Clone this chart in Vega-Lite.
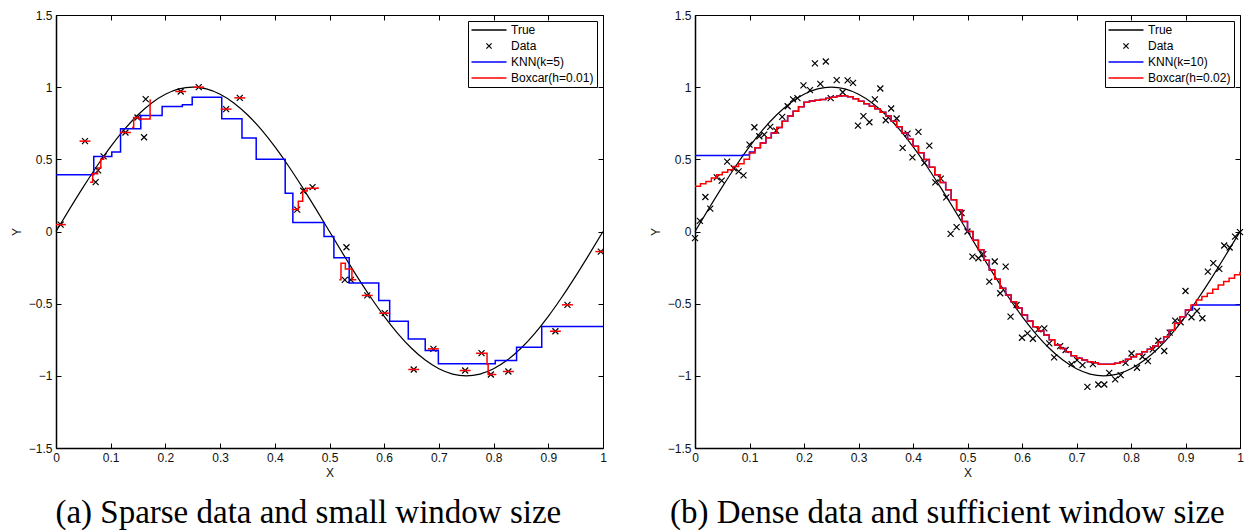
{
  "$schema": "https://vega.github.io/schema/vega-lite/v6.json",
  "background": "white",
  "padding": {"left": 9, "top": 8, "right": 0, "bottom": 0},
  "bounds": "flush",
  "spacing": 92,
  "config": {
    "view": {"stroke": "black", "strokeWidth": 1},
    "font": "Liberation Sans",
    "axis": {
      "labelFont": "Liberation Sans", "labelFontSize": 12, "labelColor": "#111",
      "titleFont": "Liberation Sans", "titleFontSize": 12, "titleFontWeight": "normal", "titleColor": "#111",
      "domainColor": "black", "domainWidth": 1.5, "tickColor": "black", "tickSize": -5, "tickWidth": 1,
      "grid": false, "labelOverlap": false, "labelFlush": false, "format": "~g"
    },
    "legend": {
      "title": null, "orient": "top-right", "offset": 6,
      "strokeColor": "black", "fillColor": "white", "padding": 3,
      "labelFont": "Liberation Sans", "labelFontSize": 12, "labelColor": "black",
      "rowPadding": 4, "symbolStrokeWidth": 1.5, "labelOffset": 16, "symbolOffset": 12,
      "symbolSize": 136, "symbolType": "M-3,0L3,0"
    }
  },
  "datasets": {
    "truth": [
      {"x":0,"y":0},{"x":0.025,"y":0.1564},{"x":0.05,"y":0.309},{"x":0.075,"y":0.454},{"x":0.1,"y":0.5878},
      {"x":0.125,"y":0.7071},{"x":0.15,"y":0.809},{"x":0.175,"y":0.891},{"x":0.2,"y":0.9511},{"x":0.225,"y":0.9877},
      {"x":0.25,"y":1},{"x":0.275,"y":0.9877},{"x":0.3,"y":0.9511},{"x":0.325,"y":0.891},{"x":0.35,"y":0.809},
      {"x":0.375,"y":0.7071},{"x":0.4,"y":0.5878},{"x":0.425,"y":0.454},{"x":0.45,"y":0.309},{"x":0.475,"y":0.1564},
      {"x":0.5,"y":0},{"x":0.525,"y":-0.1564},{"x":0.55,"y":-0.309},{"x":0.575,"y":-0.454},{"x":0.6,"y":-0.5878},
      {"x":0.625,"y":-0.7071},{"x":0.65,"y":-0.809},{"x":0.675,"y":-0.891},{"x":0.7,"y":-0.9511},{"x":0.725,"y":-0.9877},
      {"x":0.75,"y":-1},{"x":0.775,"y":-0.9877},{"x":0.8,"y":-0.9511},{"x":0.825,"y":-0.891},{"x":0.85,"y":-0.809},
      {"x":0.875,"y":-0.7071},{"x":0.9,"y":-0.5878},{"x":0.925,"y":-0.454},{"x":0.95,"y":-0.309},{"x":0.975,"y":-0.1564},
      {"x":1,"y":0}
    ],
    "ptsA": [
      {"x":0.0085,"y":0.048},{"x":0.053,"y":0.626},{"x":0.0725,"y":0.342},{"x":0.077,"y":0.423},{"x":0.087,"y":0.52},
      {"x":0.127,"y":0.686},{"x":0.149,"y":0.79},{"x":0.161,"y":0.653},{"x":0.164,"y":0.917},{"x":0.228,"y":0.97},
      {"x":0.261,"y":1.0},{"x":0.311,"y":0.848},{"x":0.336,"y":0.926},{"x":0.441,"y":0.152},{"x":0.452,"y":0.282},
      {"x":0.469,"y":0.307},{"x":0.528,"y":-0.335},{"x":0.531,"y":-0.109},{"x":0.539,"y":-0.335},{"x":0.569,"y":-0.443},
      {"x":0.601,"y":-0.566},{"x":0.654,"y":-0.956},{"x":0.69,"y":-0.813},{"x":0.748,"y":-0.963},{"x":0.778,"y":-0.843},
      {"x":0.795,"y":-0.991},{"x":0.827,"y":-0.97},{"x":0.913,"y":-0.691},{"x":0.935,"y":-0.508},{"x":0.996,"y":-0.139}
    ],
    "knnA": [
      {"x":0,"y":0.393},{"x":0.069,"y":0.52},{"x":0.102,"y":0.55},{"x":0.118,"y":0.712},{"x":0.155,"y":0.804},
      {"x":0.194,"y":0.866},{"x":0.231,"y":0.878},{"x":0.249,"y":0.931},{"x":0.303,"y":0.781},{"x":0.34,"y":0.647},
      {"x":0.366,"y":0.501},{"x":0.419,"y":0.265},{"x":0.433,"y":0.062},{"x":0.49,"y":-0.035},{"x":0.508,"y":-0.182},
      {"x":0.536,"y":-0.356},{"x":0.59,"y":-0.478},{"x":0.61,"y":-0.621},{"x":0.644,"y":-0.744},{"x":0.675,"y":-0.825},
      {"x":0.699,"y":-0.917},{"x":0.803,"y":-0.894},{"x":0.842,"y":-0.802},{"x":0.888,"y":-0.658},{"x":1.0,"y":-0.658}
    ],
    "boxA": [
      {"s":"A","x":0.0,"y":0.048},{"s":"A","x":0.018,"y":0.048},
      {"s":"B","x":0.043,"y":0.626},{"s":"B","x":0.063,"y":0.626},
      {"s":"C","x":0.0625,"y":0.342},{"s":"C","x":0.067,"y":0.4},{"s":"C","x":0.076,"y":0.44},{"s":"C","x":0.082,"y":0.5},{"s":"C","x":0.087,"y":0.52},{"s":"C","x":0.089,"y":0.52},
      {"s":"D","x":0.117,"y":0.686},{"s":"D","x":0.137,"y":0.686},
      {"s":"E","x":0.139,"y":0.72},{"s":"E","x":0.142,"y":0.79},{"s":"E","x":0.152,"y":0.78},{"s":"E","x":0.172,"y":0.91},{"s":"E","x":0.174,"y":0.91},
      {"s":"F","x":0.218,"y":0.97},{"s":"F","x":0.238,"y":0.97},
      {"s":"G","x":0.251,"y":1.0},{"s":"G","x":0.271,"y":1.0},
      {"s":"H","x":0.301,"y":0.848},{"s":"H","x":0.321,"y":0.848},
      {"s":"I","x":0.326,"y":0.926},{"s":"I","x":0.346,"y":0.926},
      {"s":"J","x":0.431,"y":0.152},{"s":"J","x":0.443,"y":0.21},{"s":"J","x":0.451,"y":0.28},{"s":"J","x":0.459,"y":0.3},{"s":"J","x":0.479,"y":0.307},
      {"s":"K","x":0.518,"y":-0.335},{"s":"K","x":0.521,"y":-0.22},{"s":"K","x":0.529,"y":-0.26},{"s":"K","x":0.538,"y":-0.26},{"s":"K","x":0.541,"y":-0.335},{"s":"K","x":0.549,"y":-0.335},
      {"s":"L","x":0.559,"y":-0.443},{"s":"L","x":0.579,"y":-0.443},
      {"s":"M","x":0.591,"y":-0.566},{"s":"M","x":0.611,"y":-0.566},
      {"s":"N","x":0.644,"y":-0.956},{"s":"N","x":0.664,"y":-0.956},
      {"s":"O","x":0.68,"y":-0.813},{"s":"O","x":0.7,"y":-0.813},
      {"s":"P","x":0.738,"y":-0.963},{"s":"P","x":0.758,"y":-0.963},
      {"s":"Q","x":0.768,"y":-0.843},{"s":"Q","x":0.785,"y":-0.843},{"s":"Q","x":0.788,"y":-0.92},{"s":"Q","x":0.79,"y":-0.991},{"s":"Q","x":0.805,"y":-0.991},
      {"s":"R","x":0.817,"y":-0.97},{"s":"R","x":0.837,"y":-0.97},
      {"s":"S","x":0.903,"y":-0.691},{"s":"S","x":0.923,"y":-0.691},
      {"s":"T","x":0.925,"y":-0.508},{"s":"T","x":0.945,"y":-0.508},
      {"s":"U","x":0.986,"y":-0.139},{"s":"U","x":1.0,"y":-0.139}
    ],
    "ptsB": [
      {"x":0.0,"y":-0.046},{"x":0.009,"y":0.074},{"x":0.019,"y":0.239},{"x":0.028,"y":0.158},{"x":0.04,"y":0.375},
      {"x":0.049,"y":0.352},{"x":0.059,"y":0.484},{"x":0.071,"y":0.438},{"x":0.08,"y":0.417},{"x":0.089,"y":0.389},
      {"x":0.1,"y":0.602},{"x":0.109,"y":0.722},{"x":0.118,"y":0.66},{"x":0.127,"y":0.671},{"x":0.138,"y":0.725},
      {"x":0.149,"y":0.699},{"x":0.16,"y":0.794},{"x":0.17,"y":0.868},{"x":0.18,"y":0.915},{"x":0.188,"y":0.924},
      {"x":0.199,"y":1.012},{"x":0.211,"y":0.979},{"x":0.22,"y":1.165},{"x":0.23,"y":1.023},{"x":0.24,"y":1.178},
      {"x":0.249,"y":0.924},{"x":0.26,"y":1.049},{"x":0.271,"y":0.965},{"x":0.28,"y":1.047},{"x":0.29,"y":1.03},
      {"x":0.299,"y":0.734},{"x":0.309,"y":0.799},{"x":0.32,"y":0.757},{"x":0.33,"y":0.915},{"x":0.34,"y":0.991},
      {"x":0.35,"y":0.771},{"x":0.36,"y":0.852},{"x":0.37,"y":0.783},{"x":0.381,"y":0.579},{"x":0.39,"y":0.678},
      {"x":0.399,"y":0.514},{"x":0.41,"y":0.69},{"x":0.421,"y":0.475},{"x":0.43,"y":0.595},{"x":0.441,"y":0.34},
      {"x":0.451,"y":0.366},{"x":0.461,"y":0.236},{"x":0.469,"y":-0.016},{"x":0.48,"y":0.03},{"x":0.489,"y":0.128},
      {"x":0.5,"y":0.0},{"x":0.509,"y":-0.174},{"x":0.52,"y":-0.185},{"x":0.529,"y":-0.157},{"x":0.54,"y":-0.347},
      {"x":0.55,"y":-0.208},{"x":0.56,"y":-0.428},{"x":0.57,"y":-0.243},{"x":0.579,"y":-0.59},{"x":0.59,"y":-0.509},
      {"x":0.6,"y":-0.736},{"x":0.61,"y":-0.706},{"x":0.62,"y":-0.743},{"x":0.63,"y":-0.678},{"x":0.641,"y":-0.671},
      {"x":0.65,"y":-0.775},{"x":0.659,"y":-0.872},{"x":0.67,"y":-0.794},{"x":0.68,"y":-0.821},{"x":0.691,"y":-0.919},
      {"x":0.701,"y":-0.891},{"x":0.711,"y":-0.926},{"x":0.72,"y":-1.076},{"x":0.73,"y":-0.919},{"x":0.74,"y":-1.06},
      {"x":0.751,"y":-1.06},{"x":0.76,"y":-0.979},{"x":0.771,"y":-1.025},{"x":0.781,"y":-0.995},{"x":0.79,"y":-0.91},
      {"x":0.801,"y":-0.845},{"x":0.811,"y":-0.944},{"x":0.821,"y":-0.868},{"x":0.831,"y":-0.898},{"x":0.84,"y":-0.817},
      {"x":0.85,"y":-0.757},{"x":0.861,"y":-0.828},{"x":0.871,"y":-0.701},{"x":0.881,"y":-0.618},{"x":0.891,"y":-0.629},
      {"x":0.9,"y":-0.412},{"x":0.911,"y":-0.594},{"x":0.921,"y":-0.551},{"x":0.931,"y":-0.601},{"x":0.941,"y":-0.278},
      {"x":0.951,"y":-0.219},{"x":0.962,"y":-0.259},{"x":0.971,"y":-0.097},{"x":0.981,"y":-0.111},{"x":0.991,"y":-0.035},
      {"x":1.0,"y":-0.004}
    ],
    "boxB": [
      {"x":0.0,"y":0.313},{"x":0.01,"y":0.33},{"x":0.02,"y":0.347},{"x":0.03,"y":0.37},{"x":0.04,"y":0.394},
      {"x":0.05,"y":0.41},{"x":0.06,"y":0.428},{"x":0.07,"y":0.45},{"x":0.08,"y":0.47},{"x":0.09,"y":0.5},
      {"x":0.1,"y":0.544},{"x":0.11,"y":0.58},{"x":0.12,"y":0.614},{"x":0.13,"y":0.65},{"x":0.14,"y":0.683},
      {"x":0.15,"y":0.72},{"x":0.16,"y":0.764},{"x":0.17,"y":0.8},{"x":0.18,"y":0.833},{"x":0.19,"y":0.865},
      {"x":0.2,"y":0.896},{"x":0.21,"y":0.905},{"x":0.22,"y":0.91},{"x":0.23,"y":0.915},{"x":0.24,"y":0.924},
      {"x":0.25,"y":0.93},{"x":0.26,"y":0.938},{"x":0.27,"y":0.94},{"x":0.28,"y":0.933},{"x":0.29,"y":0.92},
      {"x":0.3,"y":0.903},{"x":0.31,"y":0.885},{"x":0.32,"y":0.868},{"x":0.33,"y":0.85},{"x":0.34,"y":0.826},
      {"x":0.35,"y":0.8},{"x":0.36,"y":0.764},{"x":0.37,"y":0.725},{"x":0.38,"y":0.683},{"x":0.39,"y":0.64},
      {"x":0.4,"y":0.59},{"x":0.41,"y":0.545},{"x":0.42,"y":0.498},{"x":0.43,"y":0.445},{"x":0.44,"y":0.394},
      {"x":0.45,"y":0.34},{"x":0.46,"y":0.29},{"x":0.47,"y":0.22},{"x":0.48,"y":0.15},{"x":0.49,"y":0.07},
      {"x":0.5,"y":0.0},{"x":0.51,"y":-0.06},{"x":0.52,"y":-0.127},{"x":0.53,"y":-0.2},{"x":0.54,"y":-0.266},
      {"x":0.55,"y":-0.33},{"x":0.56,"y":-0.393},{"x":0.57,"y":-0.44},{"x":0.58,"y":-0.486},{"x":0.59,"y":-0.53},
      {"x":0.6,"y":-0.578},{"x":0.61,"y":-0.62},{"x":0.62,"y":-0.66},{"x":0.63,"y":-0.69},{"x":0.64,"y":-0.717},
      {"x":0.65,"y":-0.75},{"x":0.66,"y":-0.787},{"x":0.67,"y":-0.81},{"x":0.68,"y":-0.833},{"x":0.69,"y":-0.86},
      {"x":0.7,"y":-0.879},{"x":0.71,"y":-0.89},{"x":0.72,"y":-0.903},{"x":0.73,"y":-0.91},{"x":0.74,"y":-0.919},
      {"x":0.75,"y":-0.92},{"x":0.76,"y":-0.919},{"x":0.77,"y":-0.912},{"x":0.78,"y":-0.903},{"x":0.79,"y":-0.885},
      {"x":0.8,"y":-0.868},{"x":0.81,"y":-0.85},{"x":0.82,"y":-0.833},{"x":0.83,"y":-0.815},{"x":0.84,"y":-0.794},
      {"x":0.85,"y":-0.765},{"x":0.86,"y":-0.729},{"x":0.87,"y":-0.685},{"x":0.88,"y":-0.636},{"x":0.89,"y":-0.59},
      {"x":0.9,"y":-0.544},{"x":0.91,"y":-0.51},{"x":0.92,"y":-0.474},{"x":0.93,"y":-0.45},{"x":0.94,"y":-0.428},
      {"x":0.95,"y":-0.4},{"x":0.96,"y":-0.37},{"x":0.97,"y":-0.347},{"x":0.98,"y":-0.324},{"x":0.99,"y":-0.3},
      {"x":1.0,"y":-0.278}
    ],
    "knnB": [
      {"x":0.0,"y":0.526},{"x":0.088,"y":0.53},{"x":0.1,"y":0.55},{"x":0.11,"y":0.58},{"x":0.12,"y":0.614},{"x":0.13,"y":0.65},{"x":0.14,"y":0.683},
      {"x":0.15,"y":0.72},{"x":0.16,"y":0.764},{"x":0.17,"y":0.8},{"x":0.18,"y":0.833},{"x":0.19,"y":0.865},
      {"x":0.2,"y":0.896},{"x":0.21,"y":0.905},{"x":0.22,"y":0.91},{"x":0.23,"y":0.915},{"x":0.24,"y":0.924},
      {"x":0.25,"y":0.93},{"x":0.26,"y":0.938},{"x":0.27,"y":0.94},{"x":0.28,"y":0.933},{"x":0.29,"y":0.92},
      {"x":0.3,"y":0.903},{"x":0.31,"y":0.885},{"x":0.32,"y":0.868},{"x":0.33,"y":0.85},{"x":0.34,"y":0.826},
      {"x":0.35,"y":0.8},{"x":0.36,"y":0.764},{"x":0.37,"y":0.725},{"x":0.38,"y":0.683},{"x":0.39,"y":0.64},
      {"x":0.4,"y":0.59},{"x":0.41,"y":0.545},{"x":0.42,"y":0.498},{"x":0.43,"y":0.445},{"x":0.44,"y":0.394},
      {"x":0.45,"y":0.34},{"x":0.46,"y":0.29},{"x":0.47,"y":0.22},{"x":0.48,"y":0.15},{"x":0.49,"y":0.07},
      {"x":0.5,"y":0.0},{"x":0.51,"y":-0.06},{"x":0.52,"y":-0.127},{"x":0.53,"y":-0.2},{"x":0.54,"y":-0.266},
      {"x":0.55,"y":-0.33},{"x":0.56,"y":-0.393},{"x":0.57,"y":-0.44},{"x":0.58,"y":-0.486},{"x":0.59,"y":-0.53},
      {"x":0.6,"y":-0.578},{"x":0.61,"y":-0.62},{"x":0.62,"y":-0.66},{"x":0.63,"y":-0.69},{"x":0.64,"y":-0.717},
      {"x":0.65,"y":-0.75},{"x":0.66,"y":-0.787},{"x":0.67,"y":-0.81},{"x":0.68,"y":-0.833},{"x":0.69,"y":-0.86},
      {"x":0.7,"y":-0.879},{"x":0.71,"y":-0.89},{"x":0.72,"y":-0.903},{"x":0.73,"y":-0.91},{"x":0.74,"y":-0.919},
      {"x":0.75,"y":-0.92},{"x":0.76,"y":-0.919},{"x":0.77,"y":-0.912},{"x":0.78,"y":-0.903},{"x":0.79,"y":-0.885},
      {"x":0.8,"y":-0.868},{"x":0.81,"y":-0.85},{"x":0.82,"y":-0.833},{"x":0.83,"y":-0.815},{"x":0.84,"y":-0.794},
      {"x":0.85,"y":-0.765},{"x":0.86,"y":-0.729},{"x":0.87,"y":-0.685},{"x":0.88,"y":-0.636},{"x":0.89,"y":-0.59},
      {"x":0.9,"y":-0.544},{"x":0.913,"y":-0.509},{"x":1.0,"y":-0.509}
    ]
  },
  "resolve": {"scale": {"color": "independent", "x": "independent", "y": "independent"}, "legend": {"color": "independent"}},
  "hconcat": [
    {
      "width": 547, "height": 433,
      "title": {"text": "(a) Sparse data and small window size", "orient": "bottom", "frame": "bounds", "anchor": "middle", "font": "Liberation Serif", "fontSize": 33, "fontWeight": "normal", "offset": 19, "color": "black"},
      "resolve": {"axis": {"x": "independent", "y": "independent"}},
      "layer": [
        {
          "data": {"name": "truth"},
          "mark": {"type": "line", "strokeWidth": 1.2, "interpolate": "monotone"},
          "encoding": {
            "x": {"field": "x", "type": "quantitative", "scale": {"domain": [0, 1], "nice": false}, "axis": {"orient": "bottom", "values": [0,0.1,0.2,0.3,0.4,0.5,0.6,0.7,0.8,0.9,1], "title": "X", "labelPadding": 9, "titlePadding": 4}},
            "y": {"field": "y", "type": "quantitative", "scale": {"domain": [-1.5, 1.5], "nice": false}, "axis": {"orient": "left", "values": [-1.5,-1,-0.5,0,0.5,1,1.5], "title": "Y", "labelPadding": 9, "titlePadding": 5}},
            "color": {"datum": "True", "type": "nominal", "scale": {"domain": ["True", "Data", "KNN(k=5)", "Boxcar(h=0.01)"], "range": ["black", "black", "#0000ff", "#ff0000"]},
              "legend": {"encode": {"symbols": {"update": {"shape": {"signal": "datum.value === 'Data' ? 'M-0.45,-0.45L0.45,0.45M-0.45,0.45L0.45,-0.45' : 'M-3,0L3,0'"}, "strokeWidth": {"signal": "datum.value === 'Data' ? 1.2 : 1.5"}}}}}}
          }
        },
        {
          "data": {"name": "ptsA"},
          "mark": {"type": "point", "shape": "M-1,-1L1,1M-1,1L1,-1", "filled": false, "size": 36, "strokeWidth": 1.2, "opacity": 1},
          "encoding": {
            "x": {"field": "x", "type": "quantitative", "axis": {"orient": "top", "values": [0,0.1,0.2,0.3,0.4,0.5,0.6,0.7,0.8,0.9,1], "labels": false, "title": null, "domain": false}},
            "y": {"field": "y", "type": "quantitative", "axis": {"orient": "right", "values": [-1.5,-1,-0.5,0,0.5,1,1.5], "labels": false, "title": null, "domain": false}},
            "color": {"datum": "Data", "type": "nominal"}
          }
        },
        {
          "data": {"name": "knnA"},
          "mark": {"type": "line", "strokeWidth": 1.5, "interpolate": "step-after"},
          "encoding": {
            "x": {"field": "x", "type": "quantitative", "axis": null},
            "y": {"field": "y", "type": "quantitative", "axis": null},
            "color": {"datum": "KNN(k=5)", "type": "nominal"}
          }
        },
        {
          "data": {"name": "boxA"},
          "mark": {"type": "line", "strokeWidth": 1.5, "interpolate": "step-after"},
          "encoding": {
            "x": {"field": "x", "type": "quantitative", "axis": null},
            "y": {"field": "y", "type": "quantitative", "axis": null},
            "detail": {"field": "s", "type": "nominal"},
            "color": {"datum": "Boxcar(h=0.01)", "type": "nominal"}
          }
        }
      ]
    },
    {
      "width": 545, "height": 433,
      "title": {"text": "(b) Dense data and sufficient window size", "orient": "bottom", "frame": "bounds", "anchor": "middle", "font": "Liberation Serif", "fontSize": 33, "fontWeight": "normal", "offset": 19, "color": "black"},
      "resolve": {"axis": {"x": "independent", "y": "independent"}},
      "layer": [
        {
          "data": {"name": "truth"},
          "mark": {"type": "line", "strokeWidth": 1.2, "interpolate": "monotone"},
          "encoding": {
            "x": {"field": "x", "type": "quantitative", "scale": {"domain": [0, 1], "nice": false}, "axis": {"orient": "bottom", "values": [0,0.1,0.2,0.3,0.4,0.5,0.6,0.7,0.8,0.9,1], "title": "X", "labelPadding": 9, "titlePadding": 4}},
            "y": {"field": "y", "type": "quantitative", "scale": {"domain": [-1.5, 1.5], "nice": false}, "axis": {"orient": "left", "values": [-1.5,-1,-0.5,0,0.5,1,1.5], "title": "Y", "labelPadding": 9, "titlePadding": 5}},
            "color": {"datum": "True", "type": "nominal", "scale": {"domain": ["True", "Data", "KNN(k=10)", "Boxcar(h=0.02)"], "range": ["black", "black", "#0000ff", "#ff0000"]},
              "legend": {"encode": {"symbols": {"update": {"shape": {"signal": "datum.value === 'Data' ? 'M-0.45,-0.45L0.45,0.45M-0.45,0.45L0.45,-0.45' : 'M-3,0L3,0'"}, "strokeWidth": {"signal": "datum.value === 'Data' ? 1.2 : 1.5"}}}}}}
          }
        },
        {
          "data": {"name": "ptsB"},
          "mark": {"type": "point", "shape": "M-1,-1L1,1M-1,1L1,-1", "filled": false, "size": 36, "strokeWidth": 1.2, "opacity": 1},
          "encoding": {
            "x": {"field": "x", "type": "quantitative", "axis": {"orient": "top", "values": [0,0.1,0.2,0.3,0.4,0.5,0.6,0.7,0.8,0.9,1], "labels": false, "title": null, "domain": false}},
            "y": {"field": "y", "type": "quantitative", "axis": {"orient": "right", "values": [-1.5,-1,-0.5,0,0.5,1,1.5], "labels": false, "title": null, "domain": false}},
            "color": {"datum": "Data", "type": "nominal"}
          }
        },
        {
          "data": {"name": "knnB"},
          "mark": {"type": "line", "strokeWidth": 1.5, "interpolate": "step-after"},
          "encoding": {
            "x": {"field": "x", "type": "quantitative", "axis": null},
            "y": {"field": "y", "type": "quantitative", "axis": null},
            "color": {"datum": "KNN(k=10)", "type": "nominal"}
          }
        },
        {
          "data": {"name": "boxB"},
          "mark": {"type": "line", "strokeWidth": 1.5, "interpolate": "step-after"},
          "encoding": {
            "x": {"field": "x", "type": "quantitative", "axis": null},
            "y": {"field": "y", "type": "quantitative", "axis": null},
            "color": {"datum": "Boxcar(h=0.02)", "type": "nominal"}
          }
        }
      ]
    }
  ]
}
